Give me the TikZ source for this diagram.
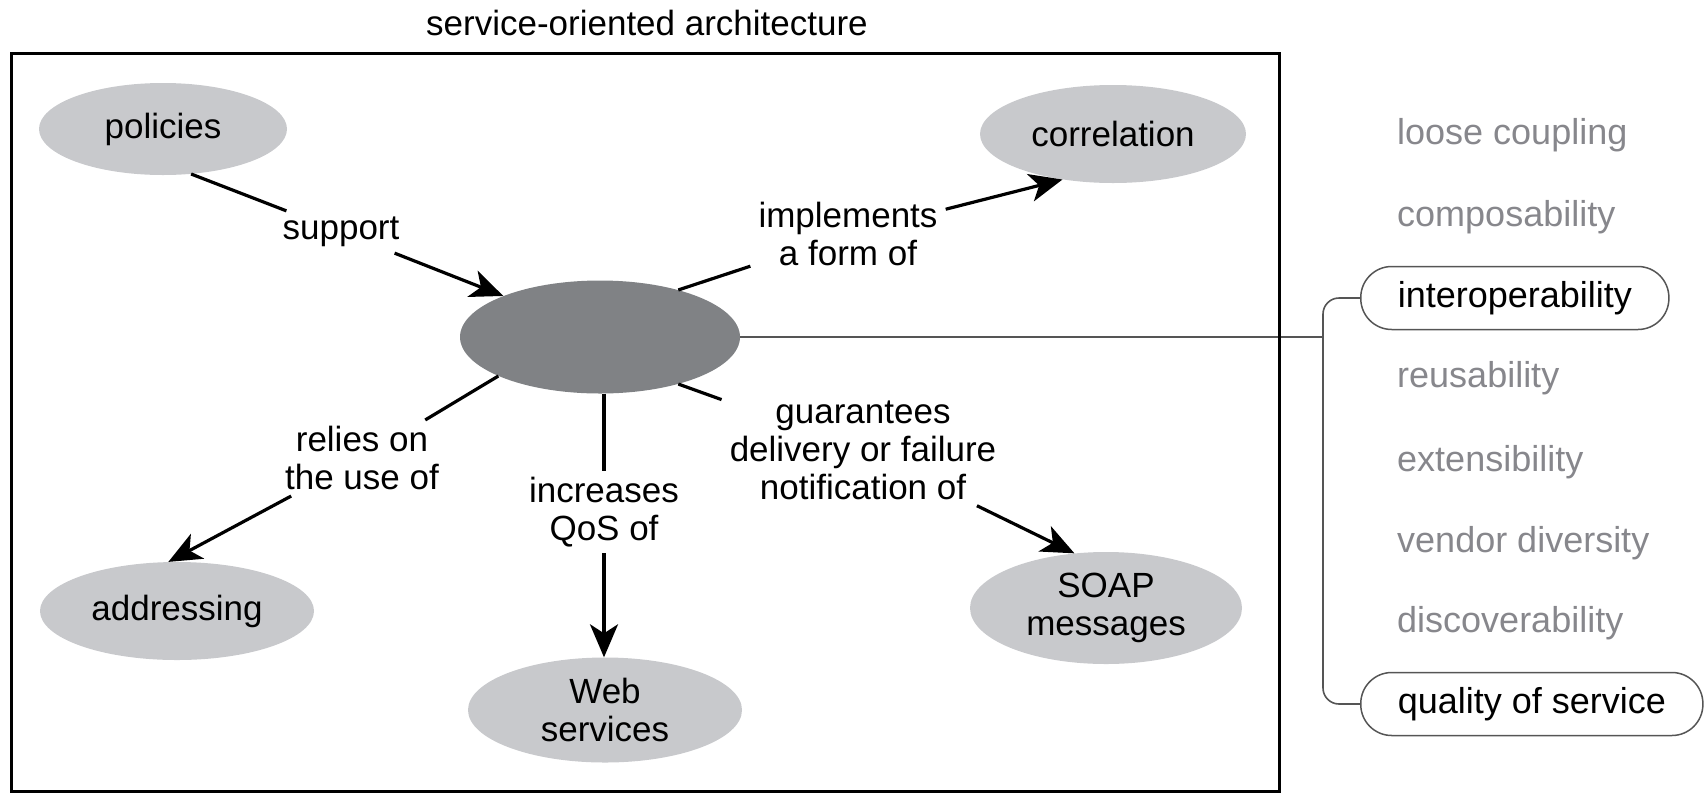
\documentclass[tikz,border=0pt]{standalone}
\usepackage{fontspec}
\setmainfont{Liberation Sans}
\usetikzlibrary{arrows.meta,shapes.geometric}
\definecolor{ellLight}{RGB}{200,201,204}
\definecolor{ellDark}{RGB}{128,130,133}
\definecolor{listGray}{RGB}{135,135,140}
\definecolor{frameGray}{RGB}{85,85,85}
\begin{document}
\begin{tikzpicture}[x=1pt,y=-1pt,
  every node/.style={font=\fontsize{35}{38}\selectfont},
  concept/.style={ellipse, fill=ellLight, inner sep=0pt, align=center},
  hub/.style={ellipse, fill=ellDark, inner sep=0pt},
  lbl/.style={align=center, inner xsep=8pt, inner ysep=6pt},
  conn/.style={line width=3.2pt},
  arr/.style={conn, -{Stealth[length=33pt,width=28pt,inset=9pt]}},
  item/.style={anchor=west, inner xsep=37pt, inner ysep=0pt, minimum height=63pt, font=\fontsize{36}{40}\selectfont, text=listGray},
  boxed/.style={item, text=black, draw=frameGray, line width=1.5pt, rounded corners=31pt},
  thinline/.style={draw=frameGray, line width=1.6pt}
]
\useasboundingbox (0,0) rectangle (1704,793);

% title
\node (title) at (647,23) {service-oriented architecture};
\coordinate (bx) at (1323,337);

% concept nodes
\node[hub, minimum width=280pt, minimum height=113pt] (hub) at (600,337) {};
\node[concept, minimum width=248pt, minimum height=92pt] (policies) at (163,129) {policies};
\node[concept, minimum width=266pt, minimum height=98pt] (correlation) at (1113,134) {correlation};
\node[concept, minimum width=274pt, minimum height=98pt] (addressing) at (177,611) {addressing};
\node[concept, minimum width=274pt, minimum height=105pt] (web) at (605,710) {Web\\services};
\node[concept, minimum width=272pt, minimum height=112pt] (soap) at (1106,608) {SOAP\\messages};

% link labels
\node[lbl] (support) at (341,232) {support};
\node[lbl] (implements) at (848,234) {implements\\a form of};
\node[lbl] (relies) at (362,458) {relies on\\the use of};
\node[lbl] (increases) at (604,512) {increases\\QoS of};
\node[lbl] (guarantees) at (863,450) {guarantees\\delivery or failure\\notification of};

% connectors
\draw[conn] (policies.-58) -- (support);
\draw[arr] (support) -- (hub.157);
\draw[conn] (hub.31) -- (implements);
\draw[arr] (implements) -- (correlation.222);
\draw[conn] (hub.201) -- (relies);
\draw[arr] (relies) -- (addressing.100);
\draw[conn] (hub.south -| increases) -- (increases);
\draw[arr] (increases) -- (web.north -| increases);
\draw[conn] (hub.-31) -- (guarantees);
\draw[arr] (guarantees) -- (soap.120);

% right-hand list
\node[item] (loose) at (1360,135) {loose coupling};
\node[item] (compos) at (1360,217) {composability};
\node[boxed] (interop) at (1360,298) {interoperability};
\node[item] (reuse) at (1360,378) {reusability};
\node[item] (ext) at (1360,462) {extensibility};
\node[item] (vendor) at (1360,543) {vendor diversity};
\node[item] (discover) at (1360,623) {discoverability};
\node[boxed] (qos) at (1360,704) {quality of service};

% line from hub to bracket
\draw[thinline] (hub.east) -- (bx);
\draw[thinline, rounded corners=16pt] (interop.west) -| (bx) |- (qos.west);

% outer frame
\node[draw, line width=3pt, minimum width=1268pt, minimum height=738pt, inner sep=0pt, anchor=north west] (frame) at (10,52) {};
\end{tikzpicture}
\end{document}
